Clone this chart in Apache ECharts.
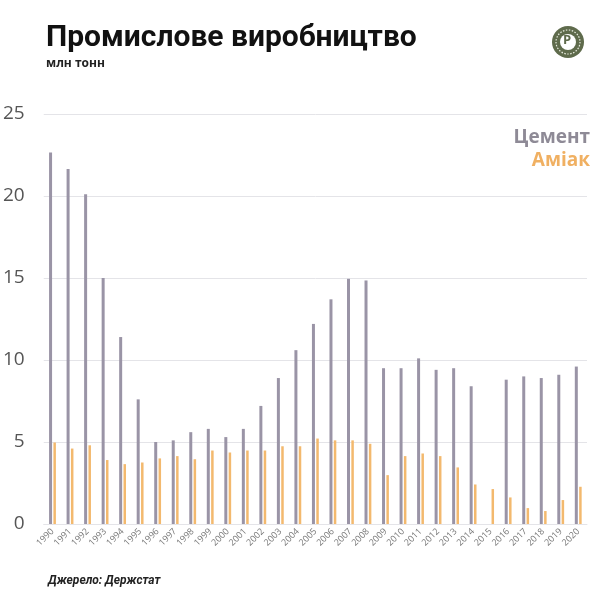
<!DOCTYPE html>
<html>
<head>
<meta charset="utf-8">
<script src="https://cdn.jsdelivr.net/npm/echarts@6/dist/echarts.min.js"></script>
<style>
html,body{margin:0;padding:0;background:#fff;}
#c{width:600px;height:614px;}
</style>
</head>
<body>
<div id="c"></div>
<script>
const years = ['1990','1991','1992','1993','1994','1995','1996','1997','1998','1999','2000','2001','2002','2003','2004','2005','2006','2007','2008','2009','2010','2011','2012','2013','2014','2015','2016','2017','2018','2019','2020'];
const cement = [22.65,21.65,20.1,15.0,11.4,7.6,5.0,5.1,5.6,5.8,5.3,5.8,7.2,8.9,10.6,12.2,13.7,14.95,14.85,9.5,9.5,10.1,9.4,9.5,8.4,null,8.8,9.0,8.9,9.1,9.6];
const ammonia = [4.97,4.6,4.8,3.9,3.65,3.75,4.0,4.14,3.95,4.48,4.36,4.48,4.48,4.74,4.74,5.21,5.1,5.1,4.89,2.98,4.14,4.3,4.14,3.45,2.41,2.13,1.62,0.97,0.79,1.46,2.27];
const yTicks = [0,5,10,15,20,25];

const cementColor = '#9a94a6';
const ammoniaColor = '#f3b96e';

const chart = echarts.init(document.getElementById('c'), null, {renderer:'canvas'});
chart.setOption({
  backgroundColor:'#ffffff',
  animation:false,
  title:{
    text:'Промислове виробництво',
    subtext:'млн тонн',
    left:41, top:18,
    itemGap:5,
    textStyle:{fontFamily:'Roboto',fontWeight:'bold',fontSize:30,color:'#111'},
    subtextStyle:{fontFamily:'Open Sans',fontWeight:'bold',fontSize:12,color:'#222'}
  },
  legend:{
    orient:'vertical', right:5, top:128, padding:0,
    icon:'none', itemWidth:0, itemHeight:0, itemGap:4, align:'right',
    selectedMode:false,
    data:[
      {name:'Цемент', textStyle:{color:'#8e8a96'}},
      {name:'Аміак', textStyle:{color:'#f0b062'}}
    ],
    textStyle:{fontFamily:'Open Sans',fontWeight:'bold',fontSize:19,padding:0}
  },
  grid:{left:43, right:13, top:114, bottom:90},
  xAxis:{
    type:'category', data:years, boundaryGap:true,
    axisLine:{show:true,lineStyle:{color:'#e4e4e8',width:1}},
    axisTick:{show:false},
    axisLabel:{interval:0, rotate:45, fontSize:9, color:'#777', fontFamily:'Open Sans', margin:6}
  },
  yAxis:{
    type:'value', min:0, max:25, interval:5,
    axisLine:{show:false}, axisTick:{show:false},
    splitLine:{lineStyle:{color:'#e4e4e8',width:1}},
    axisLabel:{fontSize:19, color:'#555', fontFamily:'Open Sans', margin:19,
      formatter:function(v){return yTicks.indexOf(v)>=0?String(v):'';}}
  },
  series:[
    {name:'Цемент', type:'bar', data:cement, barWidth:3, barGap:'45%', itemStyle:{color:cementColor}},
    {name:'Аміак', type:'bar', data:ammonia, barWidth:2.5, itemStyle:{color:ammoniaColor}}
  ],
  graphic:[
    {type:'circle', shape:{cx:568, cy:42, r:16}, style:{fill:'#5f6b4c'}},
    {type:'circle', shape:{cx:568, cy:42, r:12}, style:{fill:'none', stroke:'#e8ecdf', lineWidth:1.2, lineDash:[1.5,1.5]}},
    {type:'circle', shape:{cx:568, cy:42, r:8}, style:{fill:'#ffffff'}},
    {type:'text', left:563, top:34, style:{text:'P', fill:'#5f6b4c', font:'bold 13px "Open Sans"'}},
    {type:'text', left:48, top:575, style:{text:'Джерело: Держстат', fill:'#222', font:'italic bold 12px Roboto'}}
  ]
});
</script>
</body>
</html>
